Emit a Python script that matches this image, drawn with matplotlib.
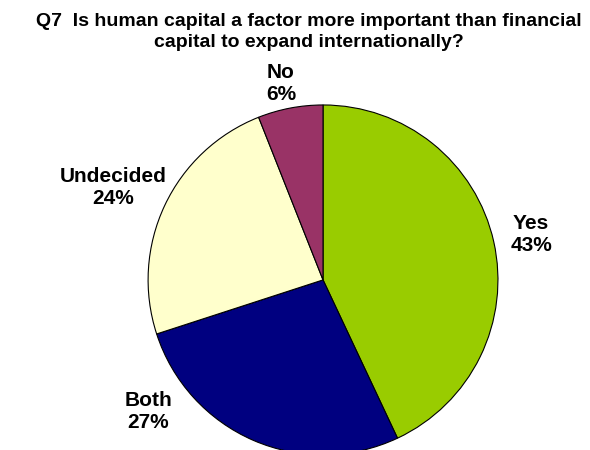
import matplotlib
matplotlib.use("Agg")
import matplotlib.pyplot as plt

labels = ["Yes", "Both", "Undecided", "No"]
values = [43, 27, 24, 6]
colors = ["#99CC00", "#000080", "#FFFFCC", "#993366"]
# label positions (in units of pie radius)
label_pos = [(1.19, 0.26), (-1.0, -0.755), (-1.2, 0.53), (-0.24, 1.12)]

plt.rcParams["font.family"] = ["Liberation Sans", "DejaVu Sans"]

fig = plt.figure(figsize=(5.9, 4.5), dpi=100)
ax = fig.add_axes([0.251, -0.011, 0.593, 0.778])

ax.pie(values, colors=colors, startangle=90, counterclock=False,
       wedgeprops=dict(edgecolor="black", linewidth=0.8))
ax.set_xlim(-1, 1)
ax.set_ylim(-1, 1)
ax.set_aspect("equal")

for lab, val, (x, y) in zip(labels, values, label_pos):
    ax.text(x, y, f"{lab}\n{val}%", ha="center", va="center",
            fontsize=15, fontweight="bold", linespacing=1.2)

fig.text(0.524, 0.929, "Q7  Is human capital a factor more important than financial\ncapital to expand internationally?",
         ha="center", va="center", fontsize=14, fontweight="bold", linespacing=1.35)

fig.savefig("out.png", dpi=100)
